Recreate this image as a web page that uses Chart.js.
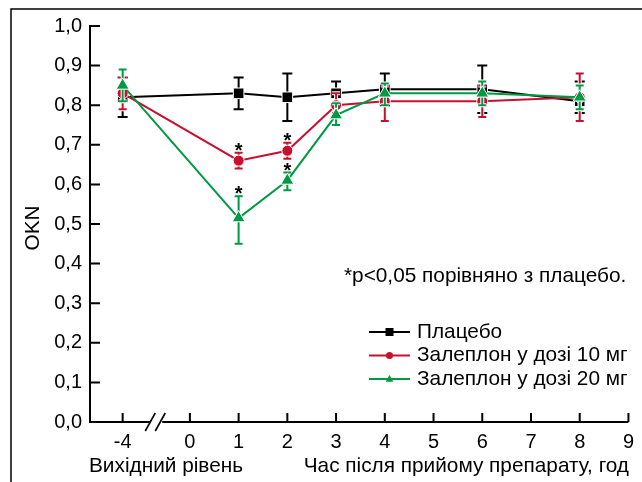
<!DOCTYPE html>
<html>
<head>
<meta charset="utf-8">
<script src="https://cdn.jsdelivr.net/npm/chart.js@4.4.0/dist/chart.umd.min.js"></script>
<style>
  body { margin: 0; background: #fff; }
  canvas { display: block; }
</style>
</head>
<body>
<canvas id="okn" width="642" height="482"></canvas>
<script>
// OKN over time, placebo vs zaleplon 10 / 20 mg
const hours = [-4, 1, 2, 3, 4, 6, 8];

const placebo     = [0.82, 0.83, 0.82, 0.83, 0.84, 0.84, 0.81];
const placeboLow  = [0.77, 0.79, 0.76, 0.80, 0.80, 0.78, 0.78];
const placeboHigh = [0.87, 0.87, 0.88, 0.86, 0.88, 0.90, 0.86];

const zal10     = [0.83, 0.66, 0.685, 0.80, 0.81, 0.81, 0.82];
const zal10Low  = [0.79, 0.64, 0.665, 0.78, 0.76, 0.77, 0.76];
const zal10High = [0.87, 0.68, 0.705, 0.83, 0.85, 0.85, 0.88];
const zal10Sig  = [false, true, true, false, false, false, false];

const zal20     = [0.85, 0.515, 0.61, 0.775, 0.83, 0.83, 0.82];
const zal20Low  = [0.81, 0.45, 0.585, 0.75, 0.80, 0.80, 0.79];
const zal20High = [0.89, 0.57, 0.63, 0.805, 0.855, 0.86, 0.85];
const zal20Sig  = [false, true, true, false, false, false, false];

const seriesLabels = ['Плацебо', 'Залеплон у дозі 10 мг', 'Залеплон у дозі 20 мг'];
const xTickValues = [-4, 0, 1, 2, 3, 4, 5, 6, 7, 8, 9];
const yTickValues = [0, 0.1, 0.2, 0.3, 0.4, 0.5, 0.6, 0.7, 0.8, 0.9, 1.0];

const yTitle = 'OKN';
const baselineTitle = 'Вихідний рівень';
const timeTitle = 'Час після прийому препарату, год';
const noteText = '*p<0,05 порівняно з плацебо.';

// the baseline (-4) sits left of the axis break
const BASELINE_POS = -1.38;
function xPos(h) { return h === -4 ? BASELINE_POS : h; }

const BLACK = '#000000';
const RED = '#c8102e';
const GREEN = '#009a44';
const FONT = '"Liberation Sans", Arial, Helvetica, sans-serif';
const TICK_PX = 20;
const TXT = 20.8;

Chart.defaults.font.family = FONT;
Chart.defaults.color = '#000';

function pts(values) {
  return values.map((v, i) => ({ x: xPos(hours[i]), y: v }));
}

function drawMarker(ctx, style, x, y, r, color) {
  ctx.fillStyle = color;
  ctx.beginPath();
  if (style === 'rect') {
    ctx.rect(x - r, y - r, 2 * r, 2 * r);
  } else if (style === 'circle') {
    ctx.arc(x, y, r, 0, Math.PI * 2);
  } else {
    ctx.moveTo(x, y - r);
    ctx.lineTo(x + r * 0.95, y + r * 0.7);
    ctx.lineTo(x - r * 0.95, y + r * 0.7);
    ctx.closePath();
  }
  ctx.fill();
}

const errorBars = {
  id: 'errorBars',
  beforeDatasetDraw(chart, args) {
    const ds = chart.data.datasets[args.index];
    const { ctx, scales: { x, y } } = chart;
    ctx.save();
    ds.errLow.forEach((lo, i) => {
      const px = x.getPixelForValue(xPos(hours[i]));
      const yl = y.getPixelForValue(lo);
      const yh = y.getPixelForValue(ds.errHigh[i]);
      const c = ds.capHalf;
      [['#fff', 4], [ds.borderColor, 2]].forEach(([col, w]) => {
        ctx.strokeStyle = col;
        ctx.lineWidth = w;
        ctx.beginPath();
        ctx.moveTo(px, yl); ctx.lineTo(px, yh);
        ctx.moveTo(px - c, yl); ctx.lineTo(px + c, yl);
        ctx.moveTo(px - c, yh); ctx.lineTo(px + c, yh);
        ctx.stroke();
      });
    });
    ctx.restore();
  },
  afterDraw(chart) {
    const { ctx, scales: { x, y } } = chart;
    ctx.save();

    // significance stars
    ctx.fillStyle = '#000';
    ctx.font = 'bold 20px ' + FONT;
    ctx.textAlign = 'center';
    ctx.textBaseline = 'alphabetic';
    chart.data.datasets.forEach(ds => {
      if (!ds.sig) return;
      ds.sig.forEach((s, i) => {
        if (!s) return;
        const px = x.getPixelForValue(xPos(hours[i]));
        const py = y.getPixelForValue(ds.errHigh[i]) - 8;
        ctx.fillText('*', px, py + 12);
      });
    });

    // axes with inward ticks
    const x0 = x.left, x1 = x.right, y0 = y.bottom, y1 = y.top;
    ctx.strokeStyle = '#000';
    ctx.lineWidth = 2;
    ctx.lineCap = 'butt';
    const brk = (x.getPixelForValue(BASELINE_POS) + x.getPixelForValue(0)) / 2;
    ctx.beginPath();
    ctx.moveTo(x0, y1 - 1); ctx.lineTo(x0, y0);
    ctx.lineTo(brk - 6, y0);
    ctx.moveTo(brk + 6, y0); ctx.lineTo(x1, y0);
    yTickValues.forEach(v => {
      const py = y.getPixelForValue(v);
      ctx.moveTo(x0, py); ctx.lineTo(x0 + 10, py);
    });
    xTickValues.forEach(v => {
      const px = x.getPixelForValue(xPos(v));
      ctx.moveTo(px, y0); ctx.lineTo(px, y0 - 9);
    });
    ctx.stroke();
    ctx.lineWidth = 1.6;
    ctx.beginPath();
    ctx.moveTo(brk - 11, y0 + 9); ctx.lineTo(brk - 1, y0 - 9);
    ctx.moveTo(brk - 1, y0 + 9); ctx.lineTo(brk + 9, y0 - 9);
    ctx.stroke();

    // axis titles
    ctx.font = TXT + 'px ' + FONT;
    ctx.textBaseline = 'middle';
    ctx.textAlign = 'left';
    ctx.fillText(baselineTitle, 89, 466);
    ctx.textAlign = 'right';
    ctx.fillText(timeTitle, 629, 466);
    ctx.save();
    ctx.translate(33, 228);
    ctx.rotate(-Math.PI / 2);
    ctx.textAlign = 'center';
    ctx.fillText(yTitle, 0, 0);
    ctx.restore();

    // note
    ctx.textAlign = 'left';
    ctx.fillText(noteText, 344, 276);

    // legend
    chart.data.datasets.forEach((ds, i) => {
      const ly = 332 + i * 23.5;
      ctx.strokeStyle = ds.borderColor;
      ctx.lineWidth = 2;
      ctx.beginPath();
      ctx.moveTo(369, ly); ctx.lineTo(410, ly);
      ctx.stroke();
      drawMarker(ctx, ds.pointStyle, 389.5, ly, ds.pointStyle === 'circle' ? 3.5 : 4, ds.borderColor);
      ctx.fillStyle = '#000';
      ctx.fillText(ds.label, 417, ly);
    });

    // figure frame (top and left)
    ctx.strokeStyle = '#000';
    ctx.lineWidth = 1.5;
    ctx.beginPath();
    ctx.moveTo(11, 482); ctx.lineTo(11, 9); ctx.lineTo(642, 9);
    ctx.stroke();
    ctx.restore();
  }
};

new Chart(document.getElementById('okn'), {
  type: 'line',
  data: {
    datasets: [
      {
        label: seriesLabels[0], data: pts(placebo),
        errLow: placeboLow, errHigh: placeboHigh, capHalf: 5,
        borderColor: BLACK, backgroundColor: BLACK,
        pointStyle: 'rect', pointRadius: 7.5, order: 3
      },
      {
        label: seriesLabels[1], data: pts(zal10),
        errLow: zal10Low, errHigh: zal10High, sig: zal10Sig, capHalf: 4,
        borderColor: RED, backgroundColor: RED,
        pointStyle: 'circle', pointRadius: 5.5, order: 2
      },
      {
        label: seriesLabels[2], data: pts(zal20),
        errLow: zal20Low, errHigh: zal20High, sig: zal20Sig, capHalf: 4,
        borderColor: GREEN, backgroundColor: GREEN,
        pointStyle: 'triangle', pointRadius: 7.5, order: 1
      }
    ].map(d => Object.assign(d, {
      borderWidth: 2, tension: 0, clip: false,
      pointBackgroundColor: d.borderColor, pointBorderColor: '#fff', pointBorderWidth: 1
    }))
  },
  options: {
    responsive: false,
    animation: false,
    layout: { padding: { top: 26, right: 13, left: 0, bottom: 0 } },
    plugins: { legend: { display: false }, tooltip: { enabled: false } },
    scales: {
      x: {
        type: 'linear', min: -2.05, max: 9,
        grid: { display: false, drawTicks: false },
        border: { display: false },
        afterBuildTicks: s => { s.ticks = xTickValues.map(v => ({ value: xPos(v) })); },
        afterFit: s => { s.height = 60; },
        ticks: {
          autoSkip: false, maxRotation: 0, padding: 8,
          font: { size: TICK_PX }, color: '#000',
          callback: (v, i) => String(xTickValues[i])
        }
      },
      y: {
        min: 0, max: 1,
        grid: { display: false, drawTicks: false },
        border: { display: false },
        afterBuildTicks: s => { s.ticks = yTickValues.map(v => ({ value: v })); },
        afterFit: s => { s.width = 90; },
        ticks: {
          padding: 8, font: { size: TICK_PX }, color: '#000',
          callback: v => v.toFixed(1).replace('.', ',')
        }
      }
    }
  },
  plugins: [errorBars]
});
</script>
</body>
</html>
